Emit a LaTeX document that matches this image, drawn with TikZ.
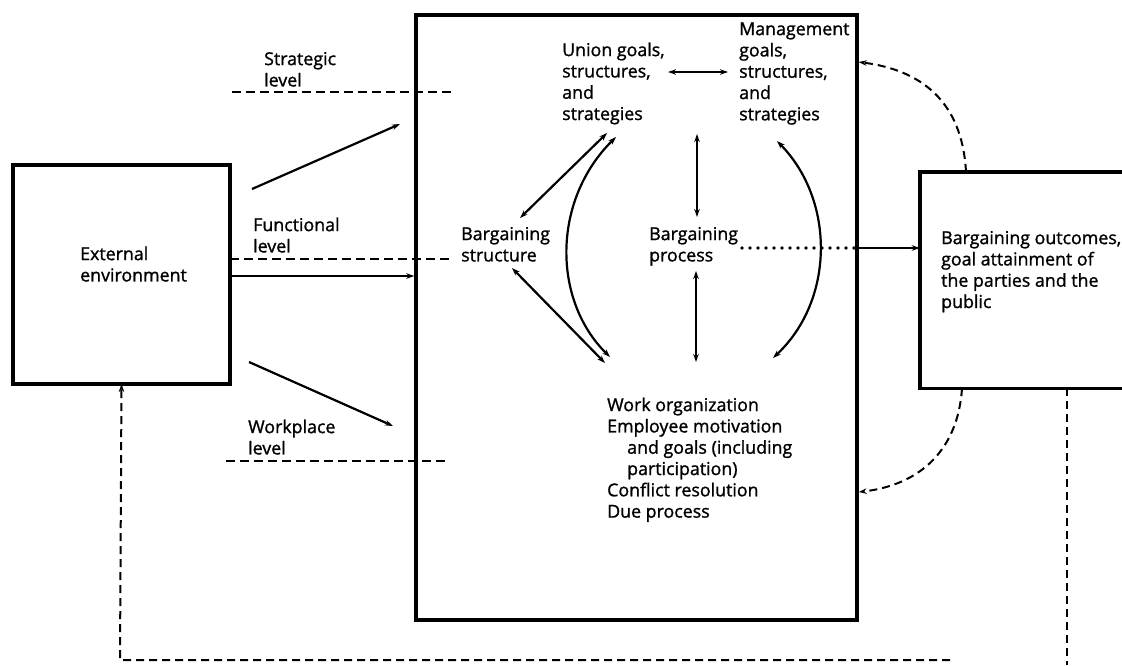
\documentclass[tikz,border=0pt]{standalone}
\usepackage{fontspec}
\usetikzlibrary{arrows.meta,calc}
\newfontfamily\lfont[FakeBold=1.2]{Open Sans}
\newcommand{\lbfont}{\lfont\fontsize{17.8}{21.3}\selectfont}
\tikzset{
  box/.style={draw, line width=3.4pt, inner sep=0pt},
  lvl/.style={line width=2pt, dash pattern=on 9pt off 5pt},
  arr/.style={line width=2.2pt, -{Stealth[length=8pt,width=5.5pt]}},
  dbl/.style={line width=2.2pt, {Stealth[length=8pt,width=5.5pt]}-{Stealth[length=8pt,width=5.5pt]}},
  thinarr/.style={line width=1.8pt, -{Stealth[length=8pt,width=5.5pt]}},
  dotline/.style={line width=3.8pt, line cap=round, dash pattern=on 0pt off 8pt},
  fb/.style={line width=2pt, dash pattern=on 8pt off 5pt},
  fbarr/.style={fb, -{Stealth[length=8pt,width=5.5pt]}},
  lbl/.style={anchor=north west, inner sep=0pt, align=left, font=\lbfont}
}
\begin{document}
\begin{tikzpicture}[x=1pt,y=-1pt]
\useasboundingbox (0,0) rectangle (1122,665);
\fill[white] (0,0) rectangle (1122,665);

% boxes
\node[box, minimum width=217pt, minimum height=219pt] (ext) at (121.5,274.5) {};
\node[box, minimum width=441pt, minimum height=605pt] (main) at (636.5,317.5) {};
\node[inner sep=0pt, minimum width=202pt, minimum height=216pt] (rbox) at (1021,280) {};
\draw[line width=3.4pt] (rbox.north east) -- (rbox.north west) -- (rbox.south west) -- (rbox.south east);

% level lines
\coordinate (s1) at (232,92);  \coordinate (s2) at (453,92);
\coordinate (f1) at (230,259); \coordinate (f2) at (450,259);
\coordinate (w1) at (226,461); \coordinate (w2) at (448,461);
\draw[lvl] (s1) -- (s2);
\draw[lvl] (f1) -- (f2);
\draw[lvl] (w1) -- (w2);

% labels
\node[lbl] (strat) at (264,50) {\strut Strategic\\level};
\node[lbl] (func) at (253,216) {\strut Functional\\level};
\node[lbl] (workl) at (248,418) {\strut Workplace\\level};
\node[lbl] (extlabel) at (80,245) {\strut External\\environment};
\node[lbl] (union) at (562,41) {\strut Union goals,\\structures,\\and\\strategies};
\node[lbl] (mgmt) at (739,20) {\strut Management\\goals,\\structures,\\and\\strategies};
\node[lbl] (bstruct) at (461,225) {\strut Bargaining\\structure};
\node[lbl] (bproc) at (649,225) {\strut Bargaining\\process};
\node[lbl] (outc) at (941,229) {\strut Bargaining outcomes,\\goal attainment of\\the parties and the\\public};
\node[lbl] (workorg) at (607,396) {\strut Work organization\\Employee motivation\\\hspace*{20pt}and goals (including\\\hspace*{20pt}participation)\\Conflict resolution\\Due process};

% arrows from external environment
\coordinate (a1s) at (252,189); \coordinate (a1e) at (400,124);
\coordinate (a3s) at (249,362); \coordinate (a3e) at (393,426);
\draw[arr] (a1s) -- (a1e);
\draw[arr] (ext.east |- 0,276) -- (main.west |- 0,276);
\draw[arr] (a3s) -- (a3e);

% inner arrows
\coordinate (um1) at (668,72); \coordinate (um2) at (728,72);
\draw[dbl] (um1) -- (um2);
\coordinate (ub1) at (607,133); \coordinate (ub2) at (520,218);
\draw[dbl] (ub1) -- (ub2);
\coordinate (bw1) at (512,268); \coordinate (bw2) at (605,363);
\draw[dbl] (bw1) -- (bw2);
\coordinate (uw1) at (616,137); \coordinate (uw2) at (610,357);
\draw[dbl] (uw1) .. controls (552,200) and (552,300) .. (uw2);
\coordinate (mp1) at (697,134); \coordinate (mp2) at (697,217);
\draw[dbl] (mp1) -- (mp2);
\coordinate (pw1) at (696,271); \coordinate (pw2) at (696,362);
\draw[dbl] (pw1) -- (pw2);
\coordinate (mw1) at (777,141); \coordinate (mw2) at (773,358);
\draw[dbl] (mw1) .. controls (835,200) and (835,300) .. (mw2);

% process to outcomes
\coordinate (dp) at (742,248);
\draw[dotline] (dp) -- (main.east |- 0,248);
\draw[thinarr] (main.east |- 0,248) -- (rbox.west |- 0,248);

% feedback arcs
\draw[fbarr] (rbox.north west -| 966,0) .. controls (962,100) and (920,70) .. (main.east |- 0,62);
\draw[fbarr] (rbox.south west -| 962,0) .. controls (958,450) and (920,485) .. (main.east |- 0,492);

% bottom feedback loop
\coordinate (fbr) at (1067,665);
\draw[fb] (rbox.south west -| 1067,0) -- (fbr);
\coordinate (fbh) at (950,660);
\coordinate (fbc) at (120,660);
\draw[fbarr] (fbh) -- (fbc) -- (ext.south |- 0,384);
\end{tikzpicture}
\end{document}
